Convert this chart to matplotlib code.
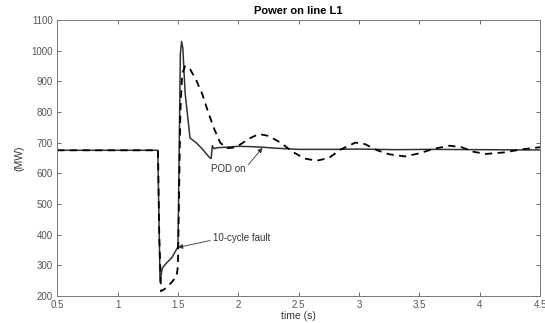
import matplotlib
matplotlib.use("Agg")
import matplotlib.pyplot as plt

plt.rcParams["font.family"] = ["Liberation Sans", "DejaVu Sans"]

# POD on (solid)
t_pod = [0.5, 1.333, 1.345, 1.352, 1.37, 1.40, 1.45, 1.50, 1.505, 1.52, 1.53, 1.54,
         1.56, 1.60, 1.65, 1.70, 1.76, 1.775, 1.785, 1.80, 1.82, 1.85, 1.9, 2.0,
         2.1, 2.2, 2.3, 2.5, 2.8, 3.0, 3.3, 3.6, 4.0, 4.5]
p_pod = [675, 675, 400, 245, 290, 305, 325, 360, 500, 990, 1030, 1010,
         860, 715, 700, 680, 652, 648, 690, 680, 683, 684, 685, 688,
         687, 685, 682, 678, 678, 679, 677, 678, 677, 676]

# POD off (dashed)
t_off = [0.5, 1.335, 1.345, 1.36, 1.40, 1.45, 1.49, 1.50, 1.52, 1.535, 1.56, 1.60,
         1.65, 1.70, 1.75, 1.80, 1.85, 1.90, 1.95, 2.0, 2.1, 2.17, 2.25, 2.35,
         2.45, 2.55, 2.65, 2.75, 2.85, 2.97, 3.05, 3.15, 3.25, 3.38, 3.5, 3.62,
         3.75, 3.85, 3.95, 4.05, 4.2, 4.35, 4.5]
p_off = [675, 675, 400, 215, 225, 245, 265, 300, 800, 925, 950, 940,
         905, 860, 800, 745, 700, 682, 683, 690, 715, 728, 722, 700,
         670, 648, 641, 650, 678, 700, 695, 675, 662, 655, 665, 680,
         690, 685, 670, 663, 668, 678, 685]

fig, ax = plt.subplots(figsize=(5.45, 3.23), dpi=100)
fig.subplots_adjust(left=0.105, right=0.991, top=0.938, bottom=0.084)

ax.plot(t_pod, p_pod, color="#333333", linewidth=1.1)
ax.plot(t_off, p_off, color="black", linewidth=1.3, linestyle=(0, (4, 3)))

ax.set_xlim(0.5, 4.5)
ax.set_ylim(200, 1100)
ax.set_xticks([0.5, 1, 1.5, 2, 2.5, 3, 3.5, 4, 4.5])
ax.set_xticklabels(["0.5", "1", "1.5", "2", "2.5", "3", "3.5", "4", "4.5"])
ax.set_yticks(range(200, 1101, 100))

ax.tick_params(direction="in", top=True, right=True, labelsize=7,
               length=3, width=0.6, colors="#555555", pad=3)
for s in ax.spines.values():
    s.set_color("#777777")
    s.set_linewidth(0.7)

ax.set_title("Power on line L1", fontsize=8, fontweight="bold", pad=4)
ax.set_xlabel("time (s)", fontsize=7.5, labelpad=1, color="#333333")
ax.set_ylabel("(MW)", fontsize=7.5, labelpad=5, color="#333333")

ax.annotate("POD on", xy=(2.20, 683), xytext=(1.775, 614), fontsize=7,
            color="#333333", va="center", ha="left",
            arrowprops=dict(arrowstyle="-|>", color="#333333", lw=0.6,
                            mutation_scale=7, shrinkA=0, shrinkB=0,
                            relpos=(1.0, 0.6)))
ax.annotate("10-cycle fault", xy=(1.50, 358), xytext=(1.79, 389), fontsize=7,
            color="#333333", va="center", ha="left",
            arrowprops=dict(arrowstyle="-|>", color="#333333", lw=0.6,
                            mutation_scale=7, shrinkA=0, shrinkB=0,
                            relpos=(0.0, 0.3)))

fig.savefig("out.png", dpi=100)
